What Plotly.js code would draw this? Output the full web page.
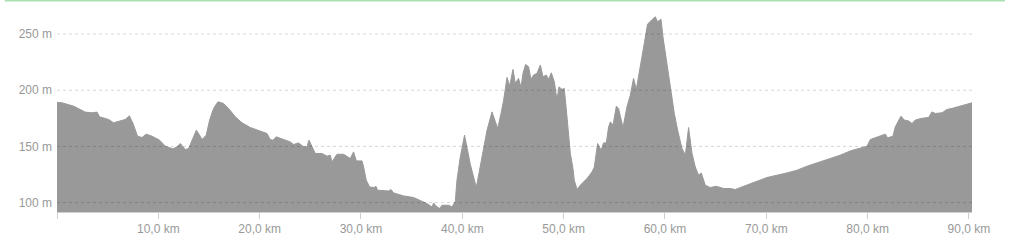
<!DOCTYPE html>
<html>
<head>
<meta charset="utf-8">
<script src="https://cdn.plot.ly/plotly-3.0.1.min.js"></script>
<style>html,body{margin:0;padding:0;background:#fff;}#chart{width:1024px;height:246px;}</style>
</head>
<body>
<div id="chart"></div>
<script>
// Distance along the route (km)
const distanceKm = [
  0.00,0.49,1.64,2.30,2.79,3.45,3.95,4.20,5.09,5.59,6.25,6.74,7.14,7.50,7.95,8.39,8.81,9.38,
  10.13,10.69,11.45,11.84,12.17,12.43,12.66,12.99,13.42,13.75,14.07,14.31,14.73,15.06,15.45,15.89,
  16.44,16.93,17.60,18.26,19.08,20.06,20.72,21.05,21.32,21.64,22.36,23.02,23.35,23.84,24.34,24.67,
  24.87,25.17,25.49,26.15,26.65,26.97,27.14,27.63,28.28,28.94,29.27,29.54,30.10,30.26,30.52,30.85,
  31.31,31.48,31.64,32.72,32.96,33.22,34.21,35.19,35.85,36.51,37.01,37.17,37.43,37.76,37.99,38.65,
  38.98,39.14,39.31,39.47,39.80,40.22,40.79,41.38,41.94,42.44,42.93,43.49,43.82,44.08,44.41,44.67,
  45.00,45.23,45.55,45.79,45.99,46.25,46.54,46.78,47.03,47.37,47.70,47.96,48.29,48.52,48.78,49.08,
  49.34,49.54,49.84,50.06,50.33,50.66,50.92,51.05,51.32,51.64,52.30,52.80,53.03,53.35,53.69,53.94,
  54.21,54.44,54.61,54.87,55.20,55.42,55.86,56.25,56.58,56.90,57.17,57.56,57.96,58.28,58.72,59.04,
  59.27,59.61,59.80,60.13,60.52,60.92,61.25,61.68,62.01,62.33,62.67,62.99,63.32,63.58,63.98,64.47,
  65.06,65.79,66.45,66.94,67.44,68.42,70.07,72.04,73.03,74.02,75.33,76.32,77.30,78.29,79.94,80.26,
  80.92,81.74,81.97,82.50,82.73,83.29,83.62,84.04,84.38,84.70,85.27,86.02,86.35,86.68,87.34,87.83,
  88.32,89.47,90.30
];
// Elevation (m)
const elevationM = [
  189.0,188.8,185.8,182.9,180.5,179.9,180.5,176.3,174.0,171.0,172.7,174.0,177.2,170.4,159.1,157.9,160.9,159.1,
  155.5,150.2,147.8,149.6,152.6,149.6,147.2,148.1,157.0,164.4,160.0,156.1,160.0,173.4,183.8,189.7,
  188.2,183.8,176.3,171.0,166.8,163.8,161.5,156.1,155.5,158.5,156.1,154.0,151.7,153.1,149.6,149.6,
  155.5,149.6,143.7,143.7,141.3,142.2,136.2,143.0,143.0,139.2,145.1,137.1,137.1,131.7,119.9,113.9,
  113.4,114.5,111.0,110.3,111.6,108.6,105.9,104.5,102.0,99.1,96.1,99.6,96.7,94.7,97.6,97.6,
  96.1,99.1,101.0,119.9,140.6,160.0,134.0,113.4,140.6,164.4,180.7,166.0,179.3,191.2,211.4,203.7,
  218.5,206.1,210.5,202.5,215.0,223.0,220.9,209.6,213.5,215.0,222.4,212.0,213.5,209.6,215.5,207.5,
  191.2,203.0,200.7,201.6,176.3,143.7,130.3,119.9,111.6,115.4,121.4,127.3,131.7,152.6,146.6,153.1,
  153.1,167.4,171.8,168.9,185.8,183.8,166.8,185.2,195.6,210.5,200.7,219.4,241.7,258.9,263.1,265.4,
  261.0,263.1,247.6,226.8,203.0,179.3,164.4,148.1,142.2,166.8,143.7,131.7,124.3,126.4,115.4,113.4,
  114.5,112.5,112.5,111.6,113.4,116.9,122.3,126.4,128.8,132.4,136.2,139.2,142.2,146.0,150.2,156.1,
  158.5,160.9,157.6,159.1,167.4,176.9,173.4,172.7,170.4,173.4,174.9,175.8,180.7,179.3,179.9,182.9,
  183.8,186.7,188.8
];
// Axis ticks
const xTickVals = [0, 10, 20, 30, 40, 50, 60, 70, 80, 90];
const xTickText = ["", "10,0 km", "20,0 km", "30,0 km", "40,0 km", "50,0 km", "60,0 km", "70,0 km", "80,0 km", "90,0 km"];
const yTickVals = [100, 150, 200, 250];
const yTickText = ["100 m", "150 m", "200 m", "250 m"];

const gridShapes = yTickVals.map(v => ({
  type: 'line', xref: 'paper', yref: 'y', x0: 0, x1: 1, y0: v, y1: v,
  layer: 'above', line: {color: 'rgba(0,0,0,0.16)', width: 1, dash: '3px,3px'}
}));
// decorative thin strip at the very top of the page
gridShapes.push({
  type: 'line', xref: 'paper', yref: 'paper', x0: -0.057, x1: 1.036, y0: 1.047, y1: 1.047,
  layer: 'above', line: {color: 'rgba(140,215,150,0.75)', width: 2}
});

const trace = {
  type: 'scatter', mode: 'lines', x: distanceKm, y: elevationM,
  fill: 'tozeroy', fillcolor: 'rgb(153,153,153)',
  line: {color: 'rgb(153,153,153)', width: 1, shape: 'linear'},
  hoverinfo: 'skip'
};

const layout = {
  width: 1024, height: 246,
  margin: {l: 57, r: 52, t: 10, b: 34, pad: 0},
  paper_bgcolor: '#fff', plot_bgcolor: '#fff',
  showlegend: false,
  font: {family: 'Arial, "Liberation Sans", sans-serif', size: 12, color: '#999'},
  xaxis: {
    range: [0, 90.3], tickmode: 'array', tickvals: xTickVals, ticktext: xTickText,
    showgrid: false, zeroline: false, showline: true, linecolor: '#d0d0d0', linewidth: 1,
    ticks: 'outside', ticklen: 6, tickcolor: '#d0d0d0', tickwidth: 1,
    tickfont: {size: 12, color: '#999'}, layer: 'above traces', fixedrange: true
  },
  yaxis: {
    range: [91.6, 271.4], tickmode: 'array', tickvals: yTickVals, ticktext: yTickText,
    showgrid: false, zeroline: false, showline: false, ticks: '',
    tickfont: {size: 12, color: '#999'}, ticklabelstandoff: 4, fixedrange: true
  },
  shapes: gridShapes
};

Plotly.newPlot('chart', [trace], layout, {displayModeBar: false, staticPlot: true});
</script>
</body>
</html>
